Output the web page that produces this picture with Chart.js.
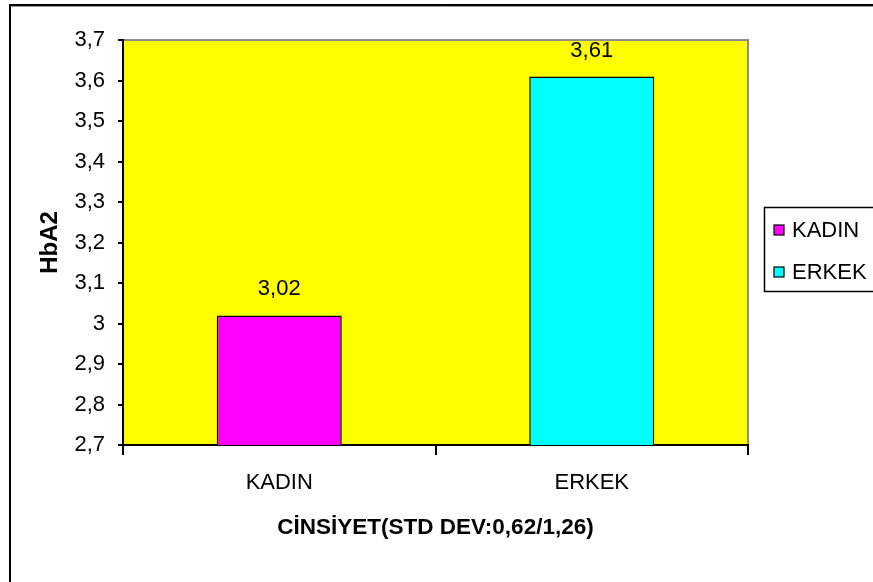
<!DOCTYPE html>
<html>
<head>
<meta charset="utf-8">
<title>HbA2 - Cinsiyet</title>
<script src="https://cdn.jsdelivr.net/npm/chart.js@4/dist/chart.umd.min.js"></script>
<style>
  html, body { margin: 0; padding: 0; background: #ffffff; }
  #wrap { width: 873px; height: 582px; }
</style>
</head>
<body>
<div id="wrap"><canvas id="c" width="873" height="582"></canvas></div>
<script>
// Mean HbA2 by sex
const categories = ['KADIN', 'ERKEK'];
const hba2Values = [3.02, 3.61];
const barColors = ['#FF00FF', '#00FFFF'];
const yMin = 2.7;
const yMax = 3.7;
const yStep = 0.1;
const yTitle = 'HbA2';
const xTitle = 'C\u0130NS\u0130YET(STD DEV:0,62/1,26)';

const FONT = '"Liberation Sans", Arial, Helvetica, sans-serif';
const TEXT_SIZE = 22;

// Turkish decimal comma
function fmt(v) {
  return String(Number(v.toFixed(2))).replace('.', ',');
}

// Frame around the whole chart, plot background and plot-area edges
const framePlugin = {
  id: 'frame',
  beforeDraw(chart) {
    const ctx = chart.ctx;
    const a = chart.chartArea;
    ctx.save();
    ctx.fillStyle = '#ffffff';
    ctx.fillRect(0, 0, chart.width, chart.height);
    // outer frame (top and left edges)
    ctx.strokeStyle = '#000000';
    ctx.lineWidth = 2;
    ctx.beginPath();
    ctx.moveTo(10, chart.height + 2);
    ctx.lineTo(10, 5);
    ctx.lineTo(chart.width + 2, 5);
    ctx.stroke();
    ctx.strokeStyle = '#9a9a9a';
    ctx.lineWidth = 1;
    ctx.beginPath();
    ctx.moveTo(11.5, 6.5);
    ctx.lineTo(chart.width + 2, 6.5);
    ctx.stroke();
    // plot background
    ctx.fillStyle = '#FFFF00';
    ctx.fillRect(a.left, a.top, a.right - a.left, a.bottom - a.top);
    // grey top/right edges of the plot area
    ctx.strokeStyle = '#8c8c8c';
    ctx.lineWidth = 2;
    ctx.beginPath();
    ctx.moveTo(a.left, a.top);
    ctx.lineTo(a.right, a.top);
    ctx.lineTo(a.right, a.bottom);
    ctx.stroke();
    ctx.restore();
  }
};

// Value labels above each bar
const valueLabelPlugin = {
  id: 'valueLabels',
  afterDatasetsDraw(chart) {
    const ctx = chart.ctx;
    const meta = chart.getDatasetMeta(0);
    const ds = chart.data.datasets[0];
    ctx.save();
    ctx.font = TEXT_SIZE + 'px ' + FONT;
    ctx.fillStyle = '#000000';
    ctx.textAlign = 'center';
    ctx.textBaseline = 'middle';
    meta.data.forEach((bar, i) => {
      ctx.fillText(fmt(ds.data[i]), bar.x, bar.y - 26);
    });
    ctx.restore();
  }
};

// Boxed legend on the right
const sideLegendPlugin = {
  id: 'sideLegend',
  afterDraw(chart) {
    const ctx = chart.ctx;
    const box = { x: 764.5, y: 207.5, w: 116, h: 84 };
    ctx.save();
    ctx.fillStyle = '#ffffff';
    ctx.fillRect(box.x, box.y, box.w, box.h);
    ctx.strokeStyle = '#000000';
    ctx.lineWidth = 1.5;
    ctx.strokeRect(box.x, box.y, box.w, box.h);
    ctx.font = TEXT_SIZE + 'px ' + FONT;
    ctx.textBaseline = 'middle';
    ctx.textAlign = 'left';
    const rows = [230, 272];
    chart.data.labels.forEach((lab, i) => {
      const cy = rows[i];
      ctx.fillStyle = barColors[i];
      ctx.fillRect(774, cy - 5, 10, 10);
      ctx.strokeStyle = '#000000';
      ctx.lineWidth = 1.2;
      ctx.strokeRect(774, cy - 5, 10, 10);
      ctx.fillStyle = '#000000';
      ctx.fillText(lab, 792, cy + 1);
    });
    ctx.restore();
  }
};

new Chart(document.getElementById('c'), {
  type: 'bar',
  data: {
    labels: categories,
    datasets: [{
      label: yTitle,
      data: hba2Values,
      backgroundColor: barColors,
      borderColor: '#000000',
      borderWidth: 1.5,
      borderSkipped: false,
      categoryPercentage: 0.4,
      barPercentage: 1.0
    }]
  },
  options: {
    responsive: false,
    animation: false,
    layout: { padding: { left: 0, top: 40, right: 125, bottom: 0 } },
    plugins: {
      legend: { display: false },
      tooltip: { enabled: false }
    },
    scales: {
      x: {
        offset: true,
        afterFit(scale) { scale.height = 137; },
        grid: {
          offset: true,
          drawOnChartArea: false,
          drawTicks: true,
          tickLength: 10,
          color: '#000000',
          lineWidth: 2
        },
        border: { display: true, color: '#000000', width: 2 },
        ticks: {
          color: '#000000',
          padding: 15,
          font: { family: FONT, size: TEXT_SIZE }
        },
        title: {
          display: true,
          text: xTitle,
          color: '#000000',
          padding: { top: 0, bottom: 41 },
          font: { family: FONT, size: 22.5, weight: 'bold' }
        }
      },
      y: {
        min: yMin,
        max: yMax,
        afterFit(scale) { scale.width = 123; },
        grid: {
          drawOnChartArea: false,
          drawTicks: true,
          tickLength: 5,
          color: '#000000',
          lineWidth: 2
        },
        border: { display: true, color: '#000000', width: 2 },
        ticks: {
          stepSize: yStep,
          color: '#000000',
          padding: 13,
          font: { family: FONT, size: TEXT_SIZE },
          callback: (v) => fmt(v)
        },
        title: {
          display: true,
          text: yTitle,
          color: '#000000',
          padding: { top: 36, bottom: 0 },
          font: { family: FONT, size: 24, weight: 'bold' }
        }
      }
    }
  },
  plugins: [framePlugin, valueLabelPlugin, sideLegendPlugin]
});
</script>
</body>
</html>
